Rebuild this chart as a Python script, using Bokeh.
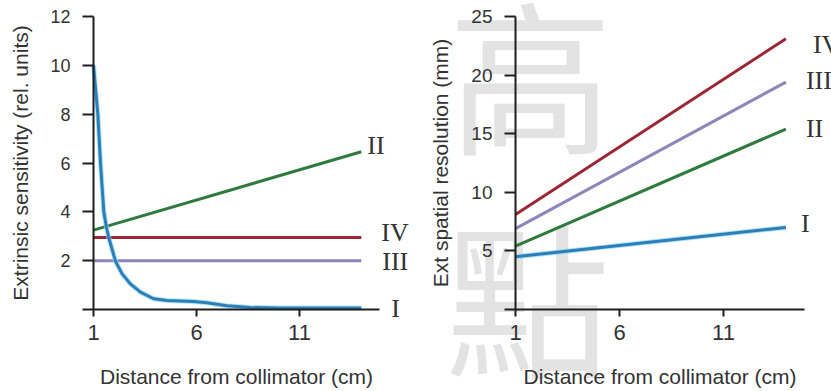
from bokeh.plotting import figure
from bokeh.models import Range1d, FixedTicker, ColumnDataSource, Label, LabelSet
from bokeh.layouts import row
from bokeh.embed import file_html
from bokeh.resources import INLINE

# ---------------- data ----------------
# Left panel: extrinsic sensitivity (rel. units) vs distance (cm)
sens_I_x = [1.0, 1.21, 1.34, 1.5, 1.63, 1.74, 2.07, 2.39, 2.79, 3.28, 3.92, 4.57, 5.86, 6.5, 7.47, 8.6, 10.0, 14.0]
sens_I_y = [10.0, 8.0, 6.0, 4.0, 3.36, 2.95, 1.97, 1.46, 1.05, 0.71, 0.44, 0.37, 0.33, 0.28, 0.15, 0.08, 0.06, 0.06]
sens_II_x = [1.0, 14.0]
sens_II_y = [3.25, 6.46]
sens_III_x = [1.0, 14.0]
sens_III_y = [2.0, 2.0]
sens_IV_x = [1.0, 14.0]
sens_IV_y = [2.95, 2.95]

# Right panel: extrinsic spatial resolution (mm) vs distance (cm)
res_x = [1.0, 14.0]
res_I_y = [4.5, 7.0]
res_II_y = [5.4, 15.4]
res_III_y = [6.9, 19.4]
res_IV_y = [8.1, 23.1]

series_names = ["I", "II", "III", "IV"]
x_ticks = [1, 6, 11]
left_y_ticks = [0, 2, 4, 6, 8, 10, 12]
right_y_ticks = [0, 5, 10, 15, 20, 25]

left_ylabel = "Extrinsic sensitivity (rel. units)"
right_ylabel = "Ext spatial resolution (mm)"
xlabel = "Distance from collimator (cm)"
watermark = ["高", "點"]

# ---------------- style ----------------
COL = {"I": "#2d7db6", "II": "#2f7b3e", "III": "#8d86ba", "IV": "#9c2634"}
GLOW = "#8fd8f2"
AX = "#1e1e1e"
TXT = "#333333"
SANS = "Liberation Sans"
SERIF = "Liberation Serif"
H = 390
X_AXIS_END = 14.9


def hspan(size, p0, v0, p1, v1):
    """Horizontal range: value v0 at pixel p0, v1 at pixel p1 (from the left)."""
    k = (v1 - v0) / (p1 - p0)
    return Range1d(v0 - p0 * k, v0 + (size - p0) * k)


def vspan(size, p0, v0, p1, v1):
    """Vertical range: value v0 at pixel p0, v1 at pixel p1 (from the top)."""
    k = (v1 - v0) / (p0 - p1)
    return Range1d(v0 - (size - p0) * k, v0 + p0 * k)


def make_fig(width, xpix, ypix, yticks, ytick_size, ylabel, title_standoff):
    p = figure(width=width, height=H, output_backend="svg", toolbar_location=None,
               x_range=hspan(width, xpix[0], 1, xpix[1], 11),
               y_range=vspan(H, ypix[0], 0, ypix[1], yticks[-1]),
               min_border_left=0, min_border_right=0, min_border_top=0, min_border_bottom=0)
    p.grid.visible = False
    p.outline_line_color = None
    for ax in (p.xaxis[0], p.yaxis[0]):
        ax.axis_line_color = AX
        ax.axis_line_width = 2
        ax.major_tick_line_color = AX
        ax.major_tick_line_width = 2
        ax.minor_tick_line_color = None
        ax.major_tick_in = 0
        ax.major_label_text_color = TXT
        ax.major_label_text_font = SANS
        ax.axis_label_text_font = SANS
        ax.axis_label_text_color = TXT
        ax.axis_label_text_font_style = "normal"
        ax.axis_label_text_font_size = "21px"
    xa = p.xaxis[0]
    xa.fixed_location = 0
    xa.ticker = FixedTicker(ticks=x_ticks)
    xa.major_tick_out = 7
    xa.major_label_standoff = 8
    xa.major_label_text_font_size = "22px"
    xa.axis_label = xlabel
    xa.axis_label_standoff = 22
    xa.bounds = (1, X_AXIS_END)
    ya = p.yaxis[0]
    ya.fixed_location = 1
    ya.ticker = FixedTicker(ticks=yticks)
    ya.major_label_overrides = {0: ""}
    ya.major_tick_out = 11
    ya.major_label_standoff = 12
    ya.major_label_text_font_size = ytick_size
    ya.bounds = (yticks[0], yticks[-1])
    ya.axis_label = ylabel
    ya.axis_label_standoff = title_standoff
    return p


def add_labels(p, xs, ys, dx, dy):
    src = ColumnDataSource(dict(x=xs, y=ys, text=series_names, dx=dx, dy=dy))
    p.add_layout(LabelSet(x="x", y="y", text="text", x_offset="dx", y_offset="dy", source=src,
                          text_font=SERIF, text_font_size="26px", text_color=TXT,
                          text_baseline="middle", text_align="left"))


# ---------------- left panel ----------------
p1 = make_fig(420, (93, 299), (309, 16), left_y_ticks, "18px", left_ylabel, 15)

p1.line(sens_II_x, sens_II_y, line_color=COL["II"], line_width=3)
p1.line(sens_IV_x, sens_IV_y, line_color=COL["IV"], line_width=3)
p1.line(sens_III_x, sens_III_y, line_color=COL["III"], line_width=3)
p1.line(sens_I_x, sens_I_y, line_color=GLOW, line_width=5, line_alpha=0.7)
p1.line(sens_I_x, sens_I_y, line_color=COL["I"], line_width=3)

add_labels(p1,
           [sens_I_x[-1], sens_II_x[-1], sens_III_x[-1], sens_IV_x[-1]],
           [sens_I_y[-1], sens_II_y[-1], sens_III_y[-1], sens_IV_y[-1]],
           dx=[30, 6, 21, 20], dy=[0, 6, -1, 5])

# ---------------- right panel ----------------
p2 = make_fig(411, (95, 303), (309, 16), right_y_ticks, "19px", right_ylabel, 16)

# watermark (screen units, from the frame's left / bottom edge)
wm_pos = [(110, 320), (107, 97)]
for ch, (sx, sy) in zip(watermark, wm_pos):
    p2.add_layout(Label(x=sx, y=sy, x_units="screen", y_units="screen", text=ch,
                        text_font="Noto Sans CJK TC", text_font_size="165px",
                        text_color="#e3e3e3", text_align="center", text_baseline="middle",
                        level="underlay"))

p2.line(res_x, res_I_y, line_color=GLOW, line_width=5, line_alpha=0.7)
p2.line(res_x, res_I_y, line_color=COL["I"], line_width=3)
p2.line(res_x, res_II_y, line_color=COL["II"], line_width=3)
p2.line(res_x, res_III_y, line_color=COL["III"], line_width=3)
p2.line(res_x, res_IV_y, line_color=COL["IV"], line_width=3)

add_labels(p2, [res_x[-1]] * 4,
           [res_I_y[-1], res_II_y[-1], res_III_y[-1], res_IV_y[-1]],
           dx=[15, 20, 20, 27], dy=[4, 1, 2, -6])

layout = row(p1, p2)
open("out.html", "w").write(file_html(layout, INLINE))
